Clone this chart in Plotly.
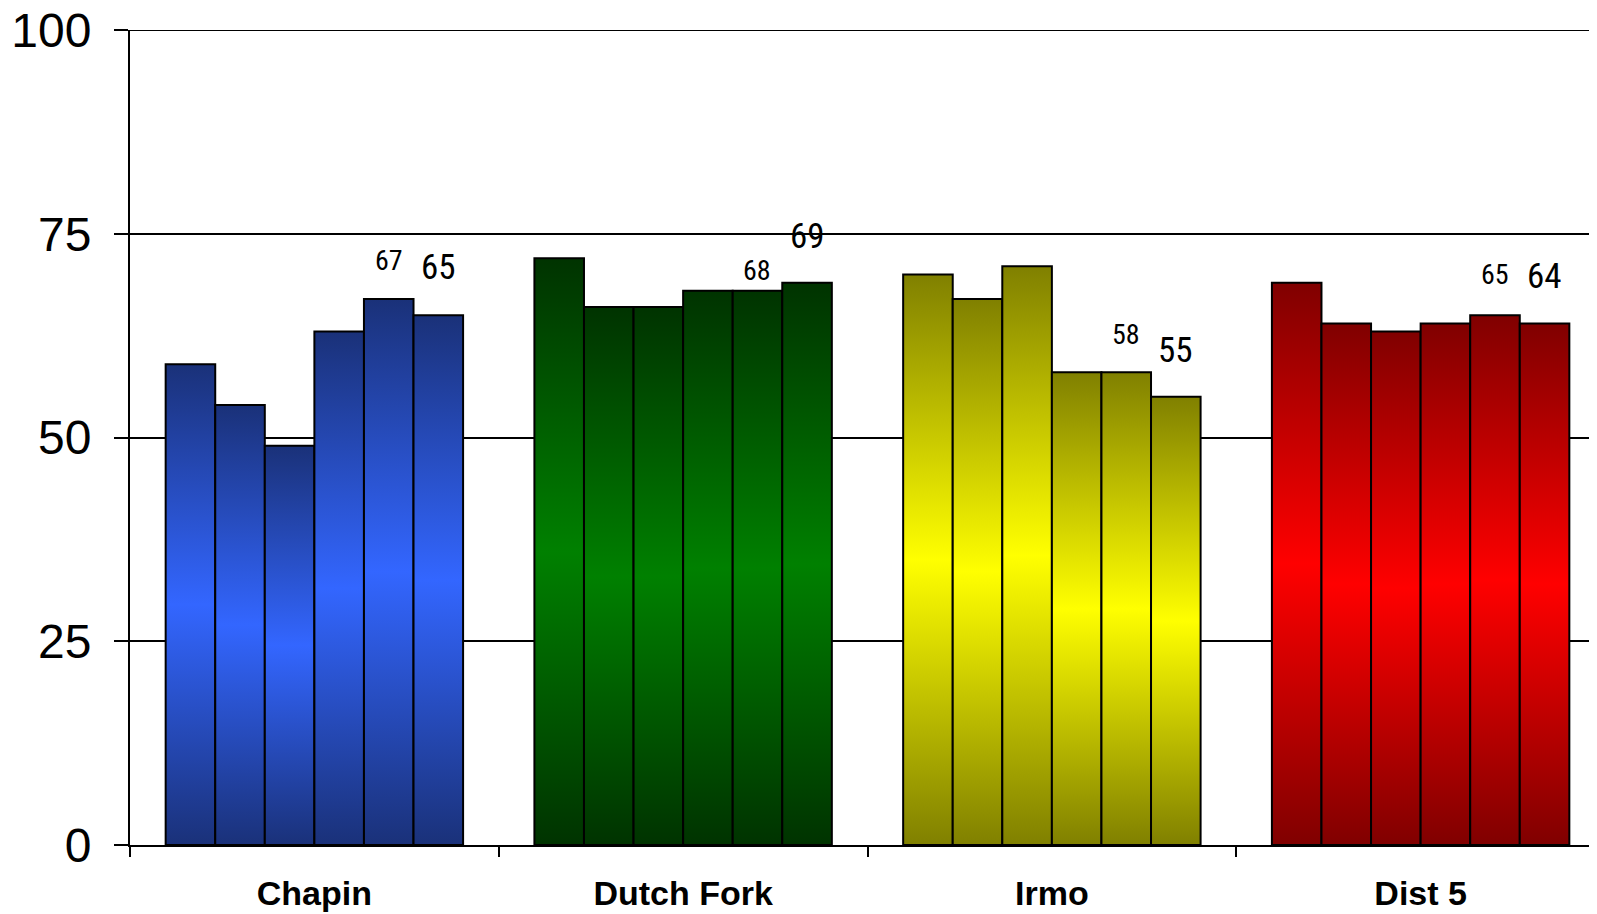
import plotly.graph_objects as go

# ---- data ----
categories = ["Chapin", "Dutch Fork", "Irmo", "Dist 5"]
chapin = [59, 54, 49, 63, 67, 65]
dutch_fork = [72, 66, 66, 68, 68, 69]
irmo = [70, 67, 71, 58, 58, 55]
dist5 = [69, 64, 63, 64, 65, 64]
y_ticks = [0, 25, 50, 75, 100]

series = [chapin, dutch_fork, irmo, dist5]

# ---- styles ----
grad_colors = [
    ("#1a3179", "#3366ff"),
    ("#003300", "#008000"),
    ("#808000", "#ffff00"),
    ("#800000", "#ff0000"),
]
group_frac = 0.8066
n_bars = 6
bar_w = group_frac / n_bars
labelled = [4, 5]               # which bars carry a value label
label_sizes = {4: 28, 5: 35}
label_shift = [[20, 25], [2, 24], [19, 24], [22, 24]]
narrow = "Liberation Sans Narrow, Arial Narrow, Roboto Condensed, DejaVu Sans Condensed, sans-serif"

fig = go.Figure()
annotations = []
for g, (vals, (dark, bright)) in enumerate(zip(series, grad_colors)):
    for i, v in enumerate(vals):
        x0 = g - group_frac / 2 + i * bar_w
        x1 = x0 + bar_w
        fig.add_trace(go.Scatter(
            x=[x0, x0, x1, x1, x0],
            y=[0, v, v, 0, 0],
            mode="lines",
            fill="toself",
            fillgradient=dict(type="vertical",
                              colorscale=[[0, dark], [0.5, bright], [1, dark]]),
            line=dict(color="black", width=2),
            hoverinfo="skip",
            showlegend=False,
        ))
        if i in labelled:
            annotations.append(dict(
                x=(x0 + x1) / 2, y=v, xref="x", yref="y",
                text=str(v), showarrow=False, yanchor="bottom",
                yshift=label_shift[g][labelled.index(i)],
                font=dict(family=narrow, size=label_sizes[i], color="black"),
            ))

# dummy trace to anchor the boundary-tick axis
fig.add_trace(go.Scatter(x=[], y=[], xaxis="x2", showlegend=False, hoverinfo="skip"))

x_range = [-0.5, 3.5]
fig.update_layout(
    width=1597, height=914,
    margin=dict(l=122, r=0, t=21.5, b=77, autoexpand=False),
    paper_bgcolor="white", plot_bgcolor="white",
    annotations=annotations,
    shapes=[dict(type="line", xref="paper", x0=0, x1=1, yref="y", y0=y_ticks[-1], y1=y_ticks[-1],
                 line=dict(color="black", width=2), layer="below")],
    xaxis=dict(
        range=x_range, tickvals=list(range(len(categories))), ticktext=categories,
        ticks="", showgrid=False, zeroline=False, automargin=False,
        showline=True, linecolor="black", linewidth=2,
        tickfont=dict(family="Liberation Sans, Arial, sans-serif", size=34,
                      color="black", weight="bold"),
        ticklabelstandoff=17, ticklabeloverflow="allow",
    ),
    xaxis2=dict(
        range=x_range, overlaying="x", anchor="y", side="bottom", automargin=False,
        tickvals=[k - 0.5 for k in range(len(categories) + 1)],
        ticks="outside", ticklen=11, tickwidth=2, tickcolor="black",
        showticklabels=False, showgrid=False, zeroline=False, showline=False,
    ),
    yaxis=dict(
        range=[0, 100], tickvals=y_ticks, automargin=False,
        ticks="outside", ticklen=14, tickwidth=2, tickcolor="black",
        showgrid=True, gridcolor="black", gridwidth=2,
        zeroline=False, showline=True, linecolor="black", linewidth=2,
        tickfont=dict(family="Liberation Sans, Arial, sans-serif", size=48, color="black"),
        ticklabelstandoff=13, ticklabeloverflow="allow",
    ),
)

fig.write_html("out.html")
